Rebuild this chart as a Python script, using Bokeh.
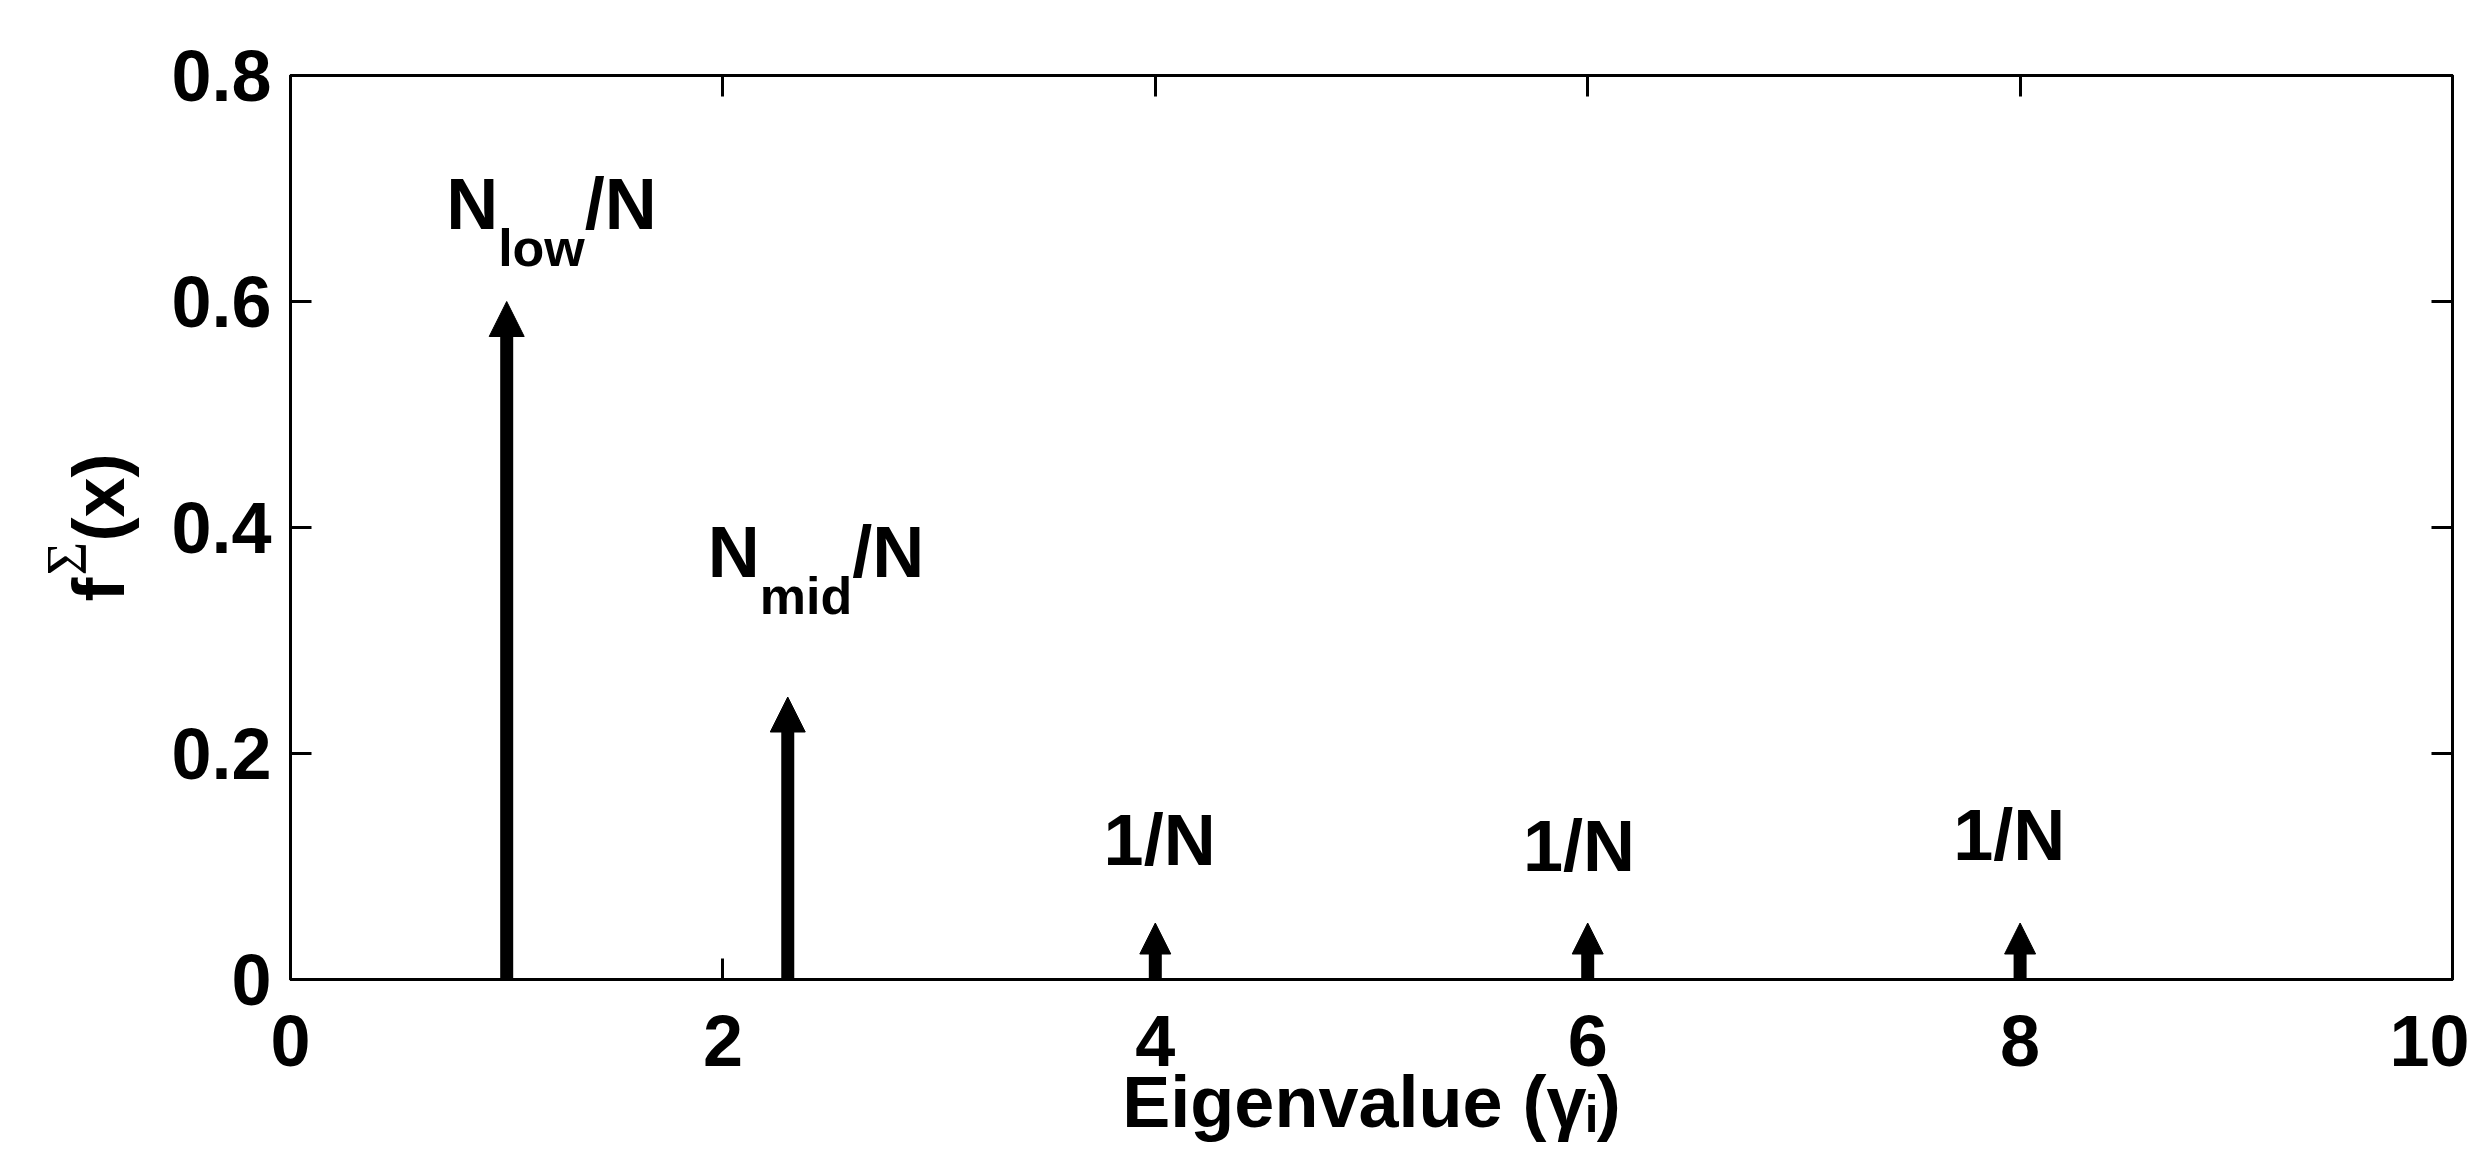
from bokeh.plotting import figure
from bokeh.models import (Range1d, FixedTicker, LinearAxis, Label, Arrow,
                          NormalHead, ColumnDataSource, Title)
from bokeh.embed import file_html
from bokeh.resources import INLINE

# ---------------- data ----------------
peak_x = [1.0, 2.3]            # eigenvalue positions of the two big spikes
peak_y = [0.60, 0.25]          # N_low/N, N_mid/N
unit_x = [4.0, 6.0, 8.0]       # isolated eigenvalues
unit_y = [0.05, 0.05, 0.05]    # 1/N

frac_label_x = [0.72, 1.93]
frac_label_y = [0.662, 0.354]
frac_label_sub = ["low", "mid"]

unit_label_x = [4.02, 5.96, 7.95]
unit_label_y = [0.100, 0.094, 0.104]
unit_label_text = ["1/N", "1/N", "1/N"]

x_ticks = [0, 2, 4, 6, 8, 10]
x_tick_labels = ["0", "2", "4", "6", "8", "10"]
y_ticks = [0, 0.2, 0.4, 0.6, 0.8]
y_tick_labels = ["0", "0.2", "0.4", "0.6", "0.8"]

x_axis_label = "Eigenvalue (\u03b3\u1d62)"
y_axis_label = "f\u2002(x)"          # gap is filled by the superscript below
y_axis_sup = "\u03a3"

# ---------------- style ----------------
SANS = "Liberation Sans"
SERIF = "Liberation Serif"
MAIN = 72
SUB = 52
W, H = 2469, 1149
BASE_SHIFT = 0.375   # label anchor sits this many em above the glyph baseline
# Arial/Liberation Sans Bold advance widths (em)
ADV = {"N": .722, "l": .278, "o": .611, "w": .778, "m": .889, "i": .278,
       "d": .611, "/": .278, "f": .333, "(": .333, "x": .556, ")": .333,
       "1": .556}


def tw(s, size):
    return sum(ADV.get(c, .6) for c in s) * size


p = figure(width=W, height=H, output_backend="svg", toolbar_location=None,
           x_range=Range1d(0, 10), y_range=Range1d(0, 0.8),
           min_border_left=290, min_border_right=17, min_border_top=75,
           min_border_bottom=170)
p.background_fill_color = "white"
p.border_fill_color = "white"
p.grid.visible = False
p.outline_line_color = "black"
p.outline_line_width = 3

bottom_axis = p.below[0]
left_axis = p.left[0]
bottom_axis.ticker = FixedTicker(ticks=x_ticks)
left_axis.ticker = FixedTicker(ticks=y_ticks)
bottom_axis.major_label_overrides = {t: l for t, l in zip(x_ticks, x_tick_labels)}
left_axis.major_label_overrides = {t: l for t, l in zip(y_ticks, y_tick_labels)}

top_axis = LinearAxis(ticker=FixedTicker(ticks=x_ticks))
right_axis = LinearAxis(ticker=FixedTicker(ticks=y_ticks))
p.add_layout(top_axis, "above")
p.add_layout(right_axis, "right")

for ax in [bottom_axis, left_axis, top_axis, right_axis]:
    ax.axis_line_color = "black"
    ax.axis_line_width = 3
    ax.major_tick_line_color = "black"
    ax.major_tick_line_width = 3
    ax.major_tick_in = 21
    ax.major_tick_out = 0
    ax.minor_tick_line_color = None
    ax.major_label_text_font = SANS
    ax.major_label_text_font_style = "bold"
    ax.major_label_text_font_size = f"{MAIN}px"
    ax.major_label_text_color = "black"
    ax.axis_label_text_font = SANS
    ax.axis_label_text_font_style = "bold"
    ax.axis_label_text_font_size = f"{MAIN}px"
    ax.axis_label_text_color = "black"

for ax in [top_axis, right_axis]:
    ax.major_label_text_font_size = "0px"
    ax.major_label_standoff = 0
    ax.major_label_text_color = None

left_axis.major_label_standoff = 19
bottom_axis.major_label_standoff = 36

bottom_axis.axis_label = x_axis_label
bottom_axis.axis_label_standoff = -7
left_axis.axis_label = y_axis_label
left_axis.axis_label_standoff = 29

# superscript Σ of the y label, in its own side panel pulled back over the axis label
p.add_layout(Title(text=y_axis_sup, align="left", vertical_align="bottom",
                   offset=404, standoff=-85, text_font=SERIF,
                   text_font_style="normal", text_font_size="58px",
                   text_color="black"), "left")

# ---------------- arrows ----------------
big_src = ColumnDataSource(dict(x=peak_x, y0=[0] * len(peak_x), y1=peak_y))
small_src = ColumnDataSource(dict(x=unit_x, y0=[0] * len(unit_x), y1=unit_y))
p.add_layout(Arrow(source=big_src, x_start="x", y_start="y0", x_end="x", y_end="y1",
                   line_width=13, line_color="black",
                   end=NormalHead(size=35, fill_color="black", line_color="black", line_width=1)))
p.add_layout(Arrow(source=small_src, x_start="x", y_start="y0", x_end="x", y_end="y1",
                   line_width=13, line_color="black",
                   end=NormalHead(size=31, fill_color="black", line_color="black", line_width=1)))


def lab(x, y, text, size, dx=0, dy=0, align="left"):
    p.add_layout(Label(x=x, y=y, text=text, x_offset=dx,
                       y_offset=dy + BASE_SHIFT * size,
                       text_font=SANS, text_font_style="bold",
                       text_font_size=f"{size}px", text_color="black",
                       text_align=align, text_baseline="alphabetic"))


# N_low/N and N_mid/N
for lx, ly, sub in zip(frac_label_x, frac_label_y, frac_label_sub):
    w_n = tw("N", MAIN)
    lab(lx, ly, "N", MAIN)
    lab(lx, ly, sub, SUB, dx=w_n, dy=-36)
    lab(lx, ly, "/N", MAIN, dx=w_n + tw(sub, SUB))

# 1/N labels
for lx, ly, t in zip(unit_label_x, unit_label_y, unit_label_text):
    lab(lx, ly, t, MAIN, align="center")

open("out.html", "w").write(file_html(p, INLINE))
